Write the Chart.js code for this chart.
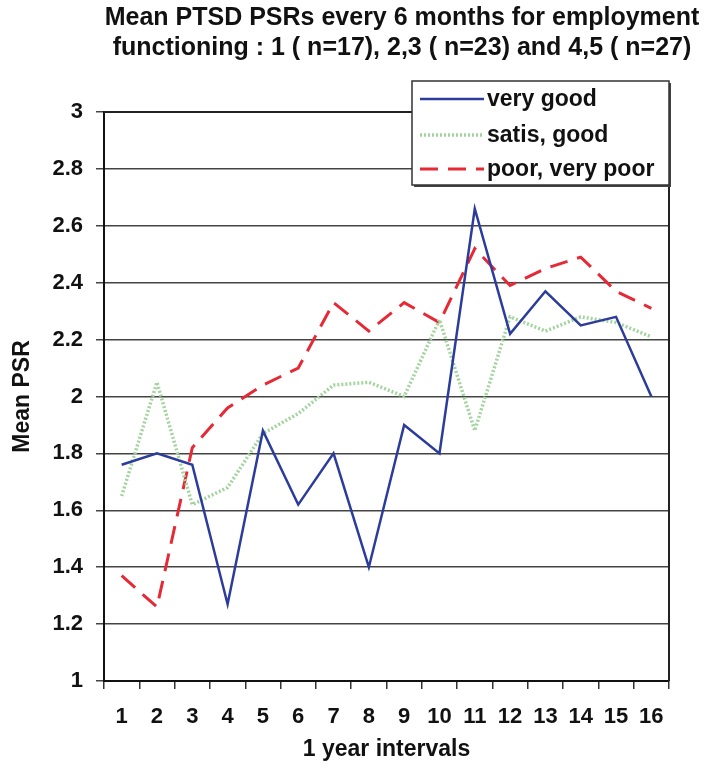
<!DOCTYPE html>
<html>
<head>
<meta charset="utf-8">
<script src="https://cdn.jsdelivr.net/npm/chart.js@4.4.1/dist/chart.umd.min.js"></script>
<style>
  html, body { margin: 0; padding: 0; background: #ffffff; }
  #wrap { width: 721px; height: 780px; }
</style>
</head>
<body>
<div id="wrap"><canvas id="c" width="721" height="780"></canvas></div>
<script>
const titleLines = ["Mean PTSD PSRs every 6 months for employment", "functioning : 1 ( n=17), 2,3 ( n=23) and 4,5 ( n=27)"];
const categories = ["1","2","3","4","5","6","7","8","9","10","11","12","13","14","15","16"];
const yTicks = [1, 1.2, 1.4, 1.6, 1.8, 2, 2.2, 2.4, 2.6, 2.8, 3];
const seriesNames = ["very good", "satis, good", "poor, very poor"];
const veryGood = [1.76, 1.80, 1.76, 1.27, 1.88, 1.62, 1.80, 1.40, 1.90, 1.80, 2.66, 2.22, 2.37, 2.25, 2.28, 2.00];
const satisGood = [1.65, 2.05, 1.62, 1.68, 1.87, 1.94, 2.04, 2.05, 2.00, 2.27, 1.88, 2.28, 2.23, 2.28, 2.26, 2.21];
const poorVeryPoor = [1.37, 1.26, 1.82, 1.96, 2.04, 2.10, 2.33, 2.23, 2.33, 2.26, 2.52, 2.39, 2.45, 2.49, 2.37, 2.31];
const xTitle = "1 year intervals";
const yTitle = "Mean PSR";

const FONT = "'Liberation Sans', Arial, sans-serif";

const titlePlugin = {
  id: 'titleLines',
  afterDraw(chart) {
    const ctx = chart.ctx;
    ctx.save();
    ctx.fillStyle = '#111';
    ctx.font = 'bold 25px ' + FONT;
    ctx.textAlign = 'center';
    ctx.textBaseline = 'middle';
    ctx.fillText(titleLines[0], 402, 18);
    ctx.fillText(titleLines[1], 402, 48);
    ctx.restore();
  }
};

const borderPlugin = {
  id: 'areaBorder',
  afterDatasetsDraw(chart) {
    const a = chart.chartArea, ctx = chart.ctx;
    ctx.save();
    ctx.strokeStyle = '#222';
    ctx.lineWidth = 2;
    ctx.beginPath();
    ctx.moveTo(a.left, a.top);
    ctx.lineTo(a.right, a.top);
    ctx.lineTo(a.right, a.bottom);
    ctx.stroke();
    ctx.restore();
  }
};

const legendPlugin = {
  id: 'boxLegend',
  afterDraw(chart) {
    const ctx = chart.ctx;
    const x = 412, y = 81, w = 257, h = 104;
    ctx.save();
    ctx.fillStyle = '#444';
    ctx.fillRect(x + 2, y + 2, w, h);
    ctx.fillStyle = '#fff';
    ctx.fillRect(x, y, w, h);
    ctx.strokeStyle = '#333';
    ctx.lineWidth = 1.5;
    ctx.strokeRect(x, y, w, h);
    const rows = [99, 135, 169];
    chart.data.datasets.forEach((ds, i) => {
      ctx.save();
      ctx.strokeStyle = ds.borderColor;
      ctx.lineWidth = ds.borderWidth;
      ctx.setLineDash(ds.borderDash || []);
      ctx.beginPath();
      ctx.moveTo(420, rows[i]);
      ctx.lineTo(484, rows[i]);
      ctx.stroke();
      ctx.restore();
      ctx.fillStyle = '#111';
      ctx.font = 'bold 23px ' + FONT;
      ctx.textAlign = 'left';
      ctx.textBaseline = 'middle';
      ctx.fillText(ds.label, 487, rows[i] + 1);
    });
    ctx.restore();
  }
};

new Chart(document.getElementById('c'), {
  type: 'line',
  data: {
    labels: categories,
    datasets: [
      { label: seriesNames[0], data: veryGood, borderColor: '#2c3c9c', borderWidth: 2.5, pointRadius: 0, tension: 0, fill: false },
      { label: seriesNames[1], data: satisGood, borderColor: '#a3d49e', borderWidth: 3.5, borderDash: [2, 2], pointRadius: 0, tension: 0, fill: false },
      { label: seriesNames[2], data: poorVeryPoor, borderColor: '#e52a36', borderWidth: 3, borderDash: [18, 10], pointRadius: 0, tension: 0, fill: false }
    ]
  },
  options: {
    responsive: false,
    animation: false,
    layout: { padding: { left: 9, right: 52, top: 112, bottom: 17 } },
    plugins: { legend: { display: false }, title: { display: false }, tooltip: { enabled: false } },
    scales: {
      x: {
        type: 'category',
        offset: true,
        grid: { offset: true, drawOnChartArea: false, drawTicks: true, tickLength: 8, color: '#333', lineWidth: 1.5 },
        border: { display: true, color: '#111', width: 2 },
        ticks: { color: '#111', font: { family: FONT, size: 22, weight: 'bold' }, padding: 15, maxRotation: 0, autoSkip: false },
        title: { display: true, text: xTitle, color: '#111', font: { family: FONT, size: 23, weight: 'bold' }, padding: 0 },
        afterFit(s) { s.height = 82; }
      },
      y: {
        min: 1, max: 3,
        afterBuildTicks(s) { s.ticks = yTicks.map(v => ({ value: v })); },
        grid: { color: '#444', lineWidth: 1.5, tickLength: 8, tickColor: '#444' },
        border: { display: true, color: '#111', width: 2 },
        ticks: { color: '#111', font: { family: FONT, size: 22, weight: 'bold' }, padding: 13, callback: v => String(v) },
        title: { display: true, text: yTitle, color: '#111', font: { family: FONT, size: 23, weight: 'bold' }, padding: 0 },
        afterFit(s) { s.width = 95; }
      }
    }
  },
  plugins: [titlePlugin, borderPlugin, legendPlugin]
});
</script>
</body>
</html>
